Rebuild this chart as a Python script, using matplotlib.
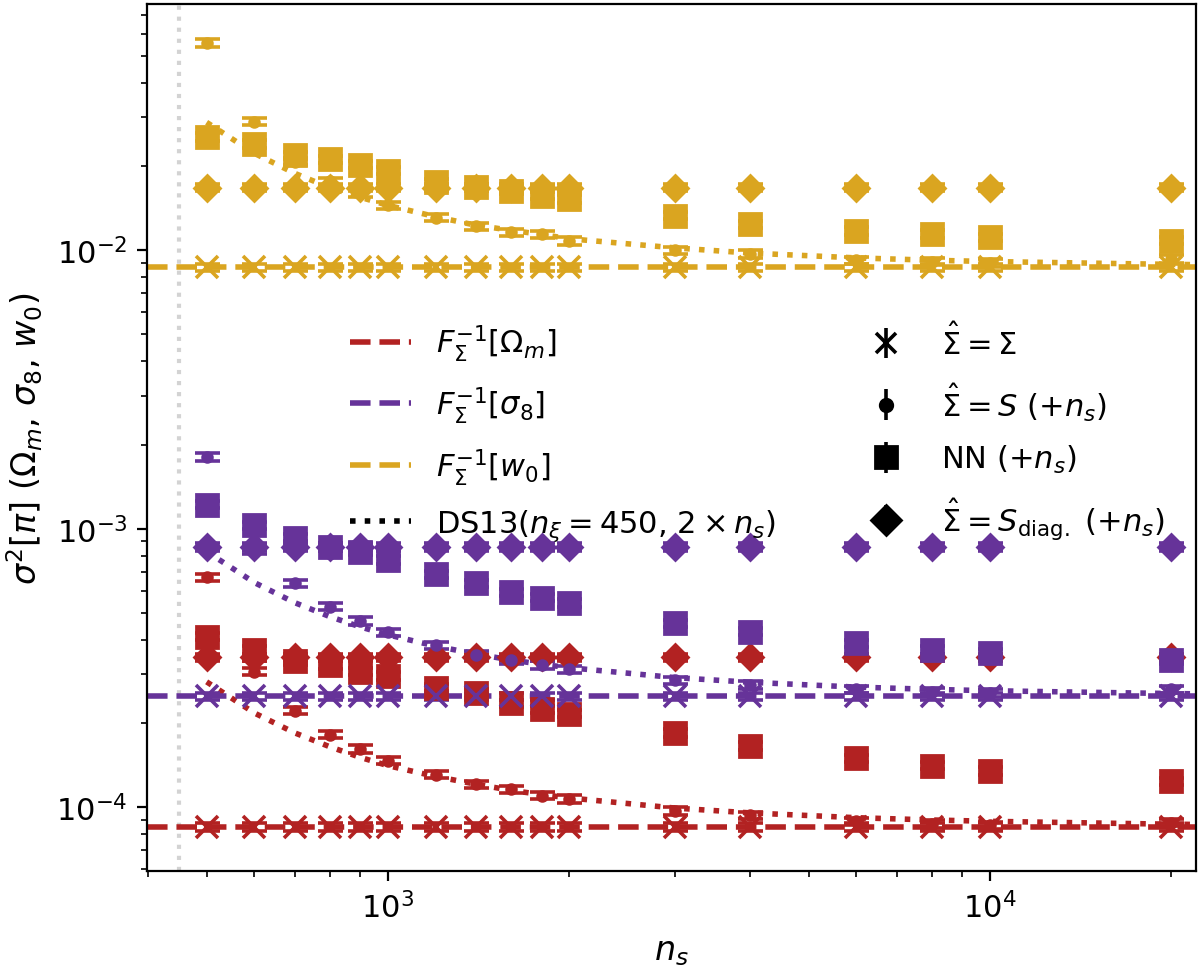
import numpy as np
import matplotlib
matplotlib.use("Agg")
from matplotlib import pyplot as plt
from matplotlib.lines import Line2D

# number of simulations
n_s = [500, 600, 700, 800, 900, 1000, 1200, 1400, 1600, 1800, 2000,
       3000, 4000, 6000, 8000, 10000, 20000]
n_s_ds13 = n_s + [25000]
n_xi = 450

# Fisher forecasts (dashed lines)
fisher_Om = 8.5e-5
fisher_s8 = 2.5e-4
fisher_w0 = 8.7e-3

# Sigma_hat = Sigma
true_Om = [8.5e-5] * len(n_s)
true_s8 = [2.5e-4] * len(n_s)
true_w0 = [8.7e-3] * len(n_s)

# Sigma_hat = S (+n_s)
S_Om = [6.69e-4, 3.07e-4, 2.22e-4, 1.82e-4, 1.62e-4, 1.47e-4, 1.31e-4, 1.21e-4,
        1.16e-4, 1.10e-4, 1.07e-4, 9.7e-5, 9.35e-5, 8.9e-5, 8.7e-5, 8.6e-5, 8.8e-5]
S_s8 = [1.81e-3, 8.4e-4, 6.37e-4, 5.25e-4, 4.67e-4, 4.25e-4, 3.82e-4, 3.52e-4,
        3.38e-4, 3.24e-4, 3.13e-4, 2.86e-4, 2.75e-4, 2.65e-4, 2.60e-4, 2.57e-4, 2.65e-4]
S_w0 = [0.0555, 0.0290, 0.0208, 0.0177, 0.0160, 0.0145, 0.0131, 0.0122,
        0.0116, 0.0114, 0.0108, 0.0100, 0.0097, 0.0092, 0.0091, 0.0090, 0.0093]

# NN (+n_s)
NN_Om = [4.10e-4, 3.67e-4, 3.35e-4, 3.24e-4, 3.07e-4, 2.96e-4, 2.69e-4, 2.57e-4,
         2.36e-4, 2.25e-4, 2.17e-4, 1.85e-4, 1.66e-4, 1.50e-4, 1.41e-4, 1.35e-4, 1.24e-4]
NN_s8 = [1.22e-3, 1.03e-3, 9.29e-4, 8.6e-4, 8.27e-4, 7.72e-4, 6.86e-4, 6.37e-4,
         5.91e-4, 5.66e-4, 5.41e-4, 4.57e-4, 4.27e-4, 3.88e-4, 3.67e-4, 3.59e-4, 3.38e-4]
NN_w0 = [0.0255, 0.0241, 0.0219, 0.0212, 0.0203, 0.0193, 0.01754, 0.01683,
         0.01637, 0.0157, 0.01528, 0.0133, 0.0124, 0.01174, 0.01144, 0.01114, 0.01082]

# Sigma_hat = S_diag (+n_s)
diag_Om = [3.45e-4] * len(n_s)
diag_s8 = [8.6e-4] * len(n_s)
diag_w0 = [0.0168] * len(n_s)

# DS13 (n_xi = 450, 2 x n_s) dotted curves
ds13_Om = [2.82e-4, 2.18e-4, 1.85e-4, 1.65e-4, 1.51e-4, 1.41e-4, 1.29e-4, 1.21e-4, 1.15e-4,
           1.11e-4, 1.08e-4, 9.93e-5, 9.54e-5, 9.17e-5, 9.00e-5, 8.90e-5, 8.69e-5, 8.65e-5]
ds13_s8 = [8.28e-4, 6.41e-4, 5.43e-4, 4.84e-4, 4.44e-4, 4.16e-4, 3.79e-4, 3.55e-4, 3.38e-4,
           3.26e-4, 3.17e-4, 2.92e-4, 2.81e-4, 2.70e-4, 2.65e-4, 2.62e-4, 2.56e-4, 2.545e-4]
ds13_w0 = [0.0288, 0.0223, 0.0189, 0.0168, 0.0155, 0.0145, 0.0132, 0.0123, 0.0118,
           0.0114, 0.0110, 0.0102, 0.00977, 0.00939, 0.00921, 0.00911, 0.00890, 0.00886]

rel_err = 0.03  # rough size of the error bars

params = [
    ("firebrick", fisher_Om, true_Om, S_Om, NN_Om, diag_Om, ds13_Om),
    ("rebeccapurple", fisher_s8, true_s8, S_s8, NN_s8, diag_s8, ds13_s8),
    ("goldenrod", fisher_w0, true_w0, S_w0, NN_w0, diag_w0, ds13_w0),
]

fig = plt.figure(figsize=(6.0, 4.85), dpi=200)
ax = fig.add_axes([0.1225, 0.101, 0.8742, 0.8938])

ax.axvline(n_xi, color="lightgray", ls=":", lw=1.5, zorder=0)

fisher_lines = []
for c, fisher, tr, S, NN, dg, ds in params:
    l = ax.axhline(fisher, color=c, ls="--", lw=2, zorder=1)
    fisher_lines.append(l)
    ax.plot(n_s_ds13, ds, color=c, ls=":", lw=2, zorder=1)
    kw = dict(color=c, capsize=4.5, capthick=1.3, elinewidth=1.3, ls="none")
    ax.errorbar(n_s, tr, yerr=rel_err * np.array(tr), fmt="x", ms=8, mew=1.3, **kw)
    ax.errorbar(n_s, S, yerr=rel_err * np.array(S), fmt="o", ms=3.5, **kw)
    ax.errorbar(n_s, NN, yerr=rel_err * np.array(NN), fmt="s", ms=8, **kw)
    ax.errorbar(n_s, dg, yerr=rel_err * np.array(dg), fmt="D", ms=6.5, **kw)

ax.set_xscale("log")
ax.set_yscale("log")
ax.set_xlim(398, 22000)
ax.set_ylim(5.9e-5, 0.0766)
ax.tick_params(labelsize=11)
ax.set_xlabel(r"$n_s$", fontsize=12)
ax.set_ylabel(r"$\sigma^2[\pi]$ $(\Omega_m$, $\sigma_8$, $w_0)$", fontsize=12)

# legends
ds_handle = Line2D([], [], color="k", ls=":", lw=2)
leg1 = ax.legend(fisher_lines + [ds_handle],
                 [r"$F_{\Sigma}^{-1}[\Omega_m]$", r"$F_{\Sigma}^{-1}[\sigma_8]$",
                  r"$F_{\Sigma}^{-1}[w_0]$", r"DS13($n_{\xi}=450$, $2\times n_s$)"],
                 loc="upper left", bbox_to_anchor=(0.182, 0.647), borderaxespad=0,
                 frameon=False, fontsize=11, labelspacing=0.68)
ax.add_artist(leg1)

hkw = dict(color="k", capsize=0, elinewidth=1.3, ls="none")
h1 = ax.errorbar([np.nan], [np.nan], yerr=[np.nan], fmt="x", ms=7.5, mew=1.3, **hkw)
h2 = ax.errorbar([np.nan], [np.nan], yerr=[np.nan], fmt="o", ms=4.5, **hkw)
h3 = ax.errorbar([np.nan], [np.nan], yerr=[np.nan], fmt="s", ms=8, **hkw)
h4 = ax.errorbar([np.nan], [np.nan], yerr=[np.nan], fmt="D", ms=7.5, **hkw)
ax.legend([h1, h2, h3, h4],
          [r"$\hat{\Sigma}=\Sigma$", r"$\hat{\Sigma}=S$ $(+n_s)$", r"NN $(+n_s)$",
           r"$\hat{\Sigma}=S_{\rm diag.}$ $(+n_s)$"],
          loc="upper left", bbox_to_anchor=(0.6635, 0.647), borderaxespad=0,
          frameon=False, fontsize=11, labelspacing=0.67)

fig.savefig("out.png", dpi=200)
